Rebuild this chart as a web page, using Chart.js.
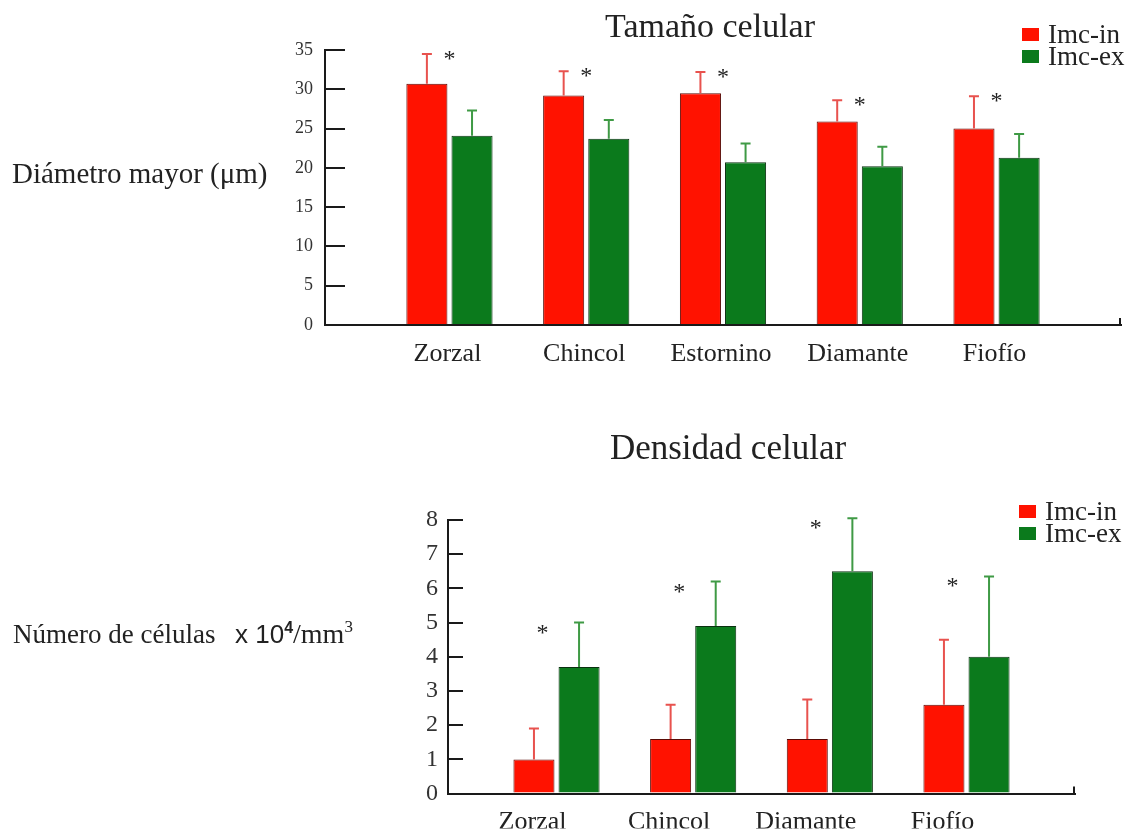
<!DOCTYPE html>
<html lang="es">
<head>
<meta charset="utf-8">
<title>Tamaño y densidad celular</title>
<script src="https://cdn.jsdelivr.net/npm/chart.js@4.4.1/dist/chart.umd.min.js"></script>
<style>
  html, body { margin: 0; padding: 0; background: #fff; }
  #wrap { position: relative; width: 1131px; height: 833px; overflow: hidden; }
  canvas { position: absolute; left: 0; }
  #chart-tamano { top: 0; }
  #chart-densidad { top: 390px; }
</style>
</head>
<body>
<div id="wrap">
  <canvas id="chart-tamano" width="1131" height="390"></canvas>
  <canvas id="chart-densidad" width="1131" height="443"></canvas>
</div>
<script>
const SERIF = '"Liberation Serif", "Times New Roman", serif';
const SANS = '"Liberation Sans", Arial, sans-serif';

const SERIES = ['Imc-in', 'Imc-ex'];

// Tamaño celular (diámetro mayor, µm)
const TAMANO_CATS = ['Zorzal', 'Chincol', 'Estornino', 'Diamante', 'Fiofío'];
const TAMANO_IN = [30.7, 29.2, 29.5, 25.9, 25.0];
const TAMANO_IN_SD = [3.8, 3.1, 2.7, 2.7, 4.1];
const TAMANO_EX = [24.1, 23.7, 20.7, 20.2, 21.3];
const TAMANO_EX_SD = [3.2, 2.4, 2.4, 2.5, 3.0];
const TAMANO_SIG = [true, true, true, true, true];
const TAMANO_TICKS = [0, 5, 10, 15, 20, 25, 30, 35];

// Densidad celular (número de células x 10^4 / mm^3)
const DENS_CATS = ['Zorzal', 'Chincol', 'Diamante', 'Fiofío'];
const DENS_IN = [1.0, 1.6, 1.6, 2.6];
const DENS_IN_SD = [0.9, 1.0, 1.15, 1.9];
const DENS_EX = [3.7, 4.9, 6.5, 4.0];
const DENS_EX_SD = [1.3, 1.3, 1.55, 2.35];
const DENS_SIG = [true, true, true, true];
const DENS_TICKS = [0, 1, 2, 3, 4, 5, 6, 7, 8];

const COLORS = {
  in:  { fill: '#ff1200', border: '#5a0a05', err: '#e8524e' },
  ex:  { fill: '#0b7a1c', border: '#0a3010', err: '#3f9a45' },
};

const AXIS_COLOR = '#1a1a1a';

// error bars, stars, titles, horizontal y label and legend
function makeDecor(opts) {
  return {
    id: 'decor',
    afterDatasetsDraw(chart) {
      const ctx = chart.ctx;
      const y = chart.scales.y;
      ctx.save();
      chart.data.datasets.forEach((ds, i) => {
        const meta = chart.getDatasetMeta(i);
        ctx.strokeStyle = ds.errColor;
        ctx.lineWidth = 2;
        meta.data.forEach((bar, j) => {
          const top = y.getPixelForValue(ds.data[j].y + ds.errors[j]);
          ctx.beginPath();
          ctx.moveTo(bar.x, bar.y);
          ctx.lineTo(bar.x, top);
          ctx.moveTo(bar.x - 5, top);
          ctx.lineTo(bar.x + 5, top);
          ctx.stroke();
        });
      });
      ctx.restore();
    },
    afterDraw(chart) {
      const ctx = chart.ctx;
      const y = chart.scales.y;
      const xs = chart.scales.x;
      ctx.save();

      // small upward tick closing the x axis
      ctx.strokeStyle = AXIS_COLOR;
      ctx.lineWidth = 2;
      ctx.beginPath();
      ctx.moveTo(xs.right - 1, xs.top);
      ctx.lineTo(xs.right - 1, xs.top - 7);
      ctx.stroke();

      ctx.fillStyle = '#222';
      ctx.textBaseline = 'alphabetic';

      // significance stars
      const m0 = chart.getDatasetMeta(0), m1 = chart.getDatasetMeta(1);
      const d0 = chart.data.datasets[0], d1 = chart.data.datasets[1];
      ctx.font = `24px ${SERIF}`;
      ctx.textAlign = 'center';
      opts.sig.forEach((s, j) => {
        if (!s) return;
        const cx = (m0.data[j].x + m1.data[j].x) / 2 + opts.starDx;
        const hi = Math.max(d0.data[j].y + d0.errors[j], d1.data[j].y + d1.errors[j]);
        const cy = y.getPixelForValue(hi) + opts.starDy;
        ctx.fillText('*', cx, cy + 12);
      });

      // title
      ctx.font = opts.titleFont;
      ctx.fillText(opts.title, opts.titleX, opts.titleY);

      // horizontal y label
      ctx.textAlign = 'left';
      let x = opts.sideX;
      opts.side.forEach(p => {
        ctx.font = p.font;
        if (typeof p.at === 'number') x = p.at;
        ctx.fillText(p.text, x, opts.sideY + (p.dy || 0));
        x += ctx.measureText(p.text).width;
      });

      // legend
      ctx.font = `27px ${SERIF}`;
      chart.data.datasets.forEach((ds, i) => {
        const ly = opts.legendY + i * opts.legendGap;
        ctx.fillStyle = ds.backgroundColor;
        ctx.fillRect(opts.legendX, ly - 15, 17, 13);
        ctx.fillStyle = '#222';
        ctx.fillText(ds.label, opts.legendX + 26, ly);
      });
      ctx.restore();
    },
  };
}

function makeChart(id, cfg) {
  const toPts = vals => vals.map((v, i) => ({ x: i + 1, y: v }));
  return new Chart(document.getElementById(id), {
    type: 'bar',
    data: {
      datasets: [
        {
          label: SERIES[0], data: toPts(cfg.inVals), errors: cfg.inSd,
          backgroundColor: COLORS.in.fill, borderColor: COLORS.in.border, errColor: COLORS.in.err,
          borderWidth: 1, categoryPercentage: 0.66, barPercentage: 0.91,
        },
        {
          label: SERIES[1], data: toPts(cfg.exVals), errors: cfg.exSd,
          backgroundColor: COLORS.ex.fill, borderColor: COLORS.ex.border, errColor: COLORS.ex.err,
          borderWidth: 1, categoryPercentage: 0.66, barPercentage: 0.91,
        },
      ],
    },
    options: {
      responsive: false,
      animation: false,
      devicePixelRatio: 1,
      layout: { padding: cfg.padding },
      plugins: {
        legend: { display: false },
        title: { display: false },
        tooltip: { enabled: false },
      },
      scales: {
        x: {
          type: 'linear',
          min: cfg.xMin, max: cfg.xMax,
          offset: false,
          afterBuildTicks: s => { s.ticks = cfg.cats.map((c, i) => ({ value: i + 1 })); },
          afterFit: s => { s.height = cfg.xHeight; },
          border: { display: true, color: AXIS_COLOR, width: 2 },
          grid: { offset: false, display: false },
          ticks: {
            autoSkip: false, maxRotation: 0, padding: cfg.xPad, labelOffset: cfg.xLabelOffset,
            color: '#222', font: { family: SERIF, size: 26 },
            callback: v => cfg.cats[v - 1] ?? '',
          },
        },
        y: {
          min: cfg.yTicks[0], max: cfg.yTicks[cfg.yTicks.length - 1],
          afterBuildTicks: s => { s.ticks = cfg.yTicks.map(v => ({ value: v })); },
          afterFit: s => { s.width = 60; },
          border: { display: true, color: AXIS_COLOR, width: 2 },
          grid: { drawOnChartArea: false, drawTicks: true, tickLength: cfg.yTick, lineWidth: 2, color: AXIS_COLOR },
          ticks: { padding: cfg.yPad, color: '#333', font: { family: SERIF, size: cfg.yFont } },
        },
      },
    },
    plugins: [makeDecor(cfg.decor)],
  });
}

makeChart('chart-tamano', {
  cats: TAMANO_CATS, inVals: TAMANO_IN, inSd: TAMANO_IN_SD, exVals: TAMANO_EX, exSd: TAMANO_EX_SD,
  yTicks: TAMANO_TICKS,
  xMin: 0.09, xMax: 5.91, xHeight: 50, xPad: 6, xLabelOffset: -2,
  yTick: -20, yPad: 32, yFont: 18,
  padding: { left: 265, right: 10, top: 50, bottom: 15 },
  decor: {
    sig: TAMANO_SIG, starDx: 0, starDy: 0,
    title: 'Tamaño celular', titleFont: `34px ${SERIF}`, titleX: 710, titleY: 37,
    side: [{ text: 'Diámetro mayor (μm)', font: `29px ${SERIF}` }], sideX: 12, sideY: 183,
    legendX: 1022, legendY: 43, legendGap: 22,
  },
});

makeChart('chart-densidad', {
  cats: DENS_CATS, inVals: DENS_IN, inSd: DENS_IN_SD, exVals: DENS_EX, exSd: DENS_EX_SD,
  yTicks: DENS_TICKS,
  xMin: 0.206, xMax: 4.794, xHeight: 35, xPad: 5, xLabelOffset: -24,
  yTick: -15, yPad: 25, yFont: 24,
  padding: { left: 388, right: 56, top: 130, bottom: 4 },
  decor: {
    sig: DENS_SIG, starDx: -14, starDy: 5,
    title: 'Densidad celular', titleFont: `35px ${SERIF}`, titleX: 728, titleY: 69,
    side: [
      { text: 'Número de células', font: `27px ${SERIF}` },
      { text: 'x 10', font: `26px ${SANS}`, at: 235 },
      { text: '4', font: `bold 16px ${SANS}`, dy: -10 },
      { text: '/mm', font: `28px ${SERIF}` },
      { text: '3', font: `17px ${SERIF}`, dy: -11 },
    ],
    sideX: 13, sideY: 253,
    legendX: 1019, legendY: 130, legendGap: 22,
  },
});
</script>
</body>
</html>
